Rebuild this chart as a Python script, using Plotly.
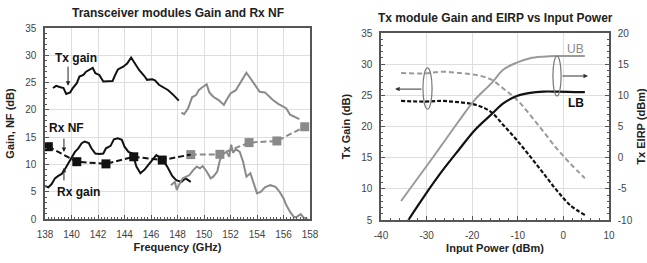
import plotly.graph_objects as go

# ---------------- Left chart data ----------------
tx_lb_f = [138.6, 138.85, 139.1, 139.4, 139.6, 139.9, 140.1, 140.4, 140.6, 140.9, 141.1, 141.4, 141.6, 141.8,
           142.1, 142.4, 142.8, 143.1, 143.3, 143.5, 143.9, 144.2, 144.5, 144.8, 145.1, 145.5, 145.7, 146.1,
           146.3, 146.6, 146.9, 147.3, 147.7, 148.1]
tx_lb_g = [24.0, 24.4, 24.2, 24.0, 22.9, 23.2, 24.0, 24.9, 26.1, 26.4, 27.0, 27.5, 27.7, 26.7,
           26.4, 25.2, 25.2, 25.3, 26.4, 27.4, 27.9, 28.5, 29.6, 28.5, 27.3, 26.2, 25.5, 25.6,
           25.4, 24.6, 24.2, 23.6, 22.7, 21.7]

tx_ub_f = [148.3, 148.5, 148.8, 149.1, 149.4, 149.6, 149.9, 150.2, 150.4, 150.7, 151.1, 151.5, 151.7, 152.0,
           152.4, 152.7, 153.0, 153.2, 153.5, 153.9, 154.2, 154.6, 154.9, 155.2, 155.6, 156.0, 156.2, 156.5,
           156.9, 157.2]
tx_ub_g = [19.5, 19.2, 20.3, 22.3, 22.7, 23.6, 24.2, 24.7, 23.2, 22.4, 21.8, 20.9, 21.8, 23.0,
           23.6, 24.9, 26.0, 26.8, 25.8, 24.4, 23.3, 23.2, 22.5, 21.8, 21.1, 20.5, 20.3, 19.1,
           18.7, 18.3]

rx_lb_f = [138.0, 138.25, 138.5, 138.75, 139.0, 139.26, 139.5, 139.76, 140.0, 140.26, 140.5, 140.77, 141.0,
           141.3, 141.5, 141.8, 142.1, 142.4, 142.6, 142.95, 143.2, 143.5, 143.8, 144.0, 144.3, 144.6, 144.9,
           145.2, 145.5, 145.8, 146.05, 146.4, 146.6, 146.85, 147.2, 147.4, 147.6, 147.9, 148.3, 148.6, 148.8,
           149.0]
rx_lb_g = [6.05, 5.8, 6.4, 7.45, 7.9, 8.25, 9.1, 10.2, 11.1, 12.3, 12.9, 13.9, 14.2,
           13.9, 12.95, 12.0, 11.9, 12.0, 12.95, 13.4, 14.6, 14.8, 14.5, 13.25, 12.3, 12.0, 9.6,
           8.4, 9.0, 9.9, 10.8, 11.7, 11.4, 10.9, 9.7, 8.7, 7.9, 7.1, 6.8, 7.45, 7.1,
           6.8]

rx_ub_f = [147.5, 147.8, 147.95, 148.1, 148.4, 148.6, 148.9, 149.2, 149.45, 149.7, 149.9, 150.2, 150.5,
           150.7, 151.0, 151.2, 151.5, 151.7, 151.9, 152.05, 152.2, 152.4, 152.7, 152.95, 153.2, 153.5,
           153.7, 154.0, 154.3, 154.6, 155.0, 155.4, 155.7, 156.0, 156.2, 156.5, 156.8, 157.0, 157.3,
           157.5, 157.8]
rx_ub_g = [6.2, 6.8, 5.3, 6.2, 7.45, 7.75, 8.05, 9.0, 9.6, 9.3, 9.7, 8.7, 7.45,
           7.75, 8.7, 10.8, 12.0, 12.3, 11.4, 13.6, 12.15, 12.8, 12.3, 10.5, 7.75, 8.4,
           6.8, 4.7, 5.0, 5.8, 6.2, 5.9, 5.0, 3.8, 2.6, 1.3, 0.3, 0.4, 0.9,
           0.3, 0.0]

nf_lb_f = [138.25, 140.4, 142.6, 144.7, 146.85]
nf_lb = [13.25, 10.5, 10.1, 11.4, 10.8]
nf_ub_f = [149.0, 151.2, 153.4, 155.5, 157.6]
nf_ub = [11.8, 11.85, 14.0, 14.3, 16.9]

freq_ticks = [138, 140, 142, 144, 146, 148, 150, 152, 154, 156, 158]
left_y_ticks = [0, 5, 10, 15, 20, 25, 30, 35]

# ---------------- Right chart data ----------------
pin_ub_eirp = [-35.6, -30.35, -26.7, -23.0, -19.4, -15.7, -13.2, -10.2, -7.3, -4.4, -1.5, 4.7]
eirp_ub = [-6.95, -1.7, 2.0, 5.8, 9.3, 12.0, 14.1, 15.25, 15.95, 16.2, 16.3, 16.3]
pin_lb_eirp = [-34.0, -30.35, -26.7, -23.0, -19.4, -15.7, -13.2, -10.2, -7.3, -4.4, -1.5, 4.7]
eirp_lb = [-10.0, -6.0, -2.25, 1.2, 4.45, 7.0, 8.7, 9.9, 10.4, 10.6, 10.6, 10.5]

pin_gain = [-35.6, -30.35, -26.7, -23.0, -19.4, -16.0, -13.2, -10.2, -7.3, -4.4, -1.5, 1.45, 4.7]
gain_ub = [28.6, 28.5, 28.8, 28.6, 28.3, 27.6, 26.1, 24.3, 21.85, 19.2, 16.5, 14.1, 11.7]
gain_lb = [24.1, 24.0, 24.1, 23.9, 23.5, 22.4, 20.25, 17.8, 15.2, 12.5, 9.8, 7.4, 5.8]

pin_ticks = [-40, -30, -20, -10, 0, 10]
gain_ticks = [5, 10, 15, 20, 25, 30, 35]
eirp_ticks = [-10, -5, 0, 5, 10, 15, 20]

W, H = 647, 263
BLACK = "#111111"
GRAY = "#8a8a8a"
FONT = "Liberation Sans Narrow, Arial Narrow, Liberation Sans, Arial, sans-serif"

fig = go.Figure()

# Left chart traces
fig.add_trace(go.Scatter(x=tx_lb_f, y=tx_lb_g, mode="lines", line=dict(color=BLACK, width=2), xaxis="x", yaxis="y"))
fig.add_trace(go.Scatter(x=tx_ub_f, y=tx_ub_g, mode="lines", line=dict(color=GRAY, width=2), xaxis="x", yaxis="y"))
fig.add_trace(go.Scatter(x=rx_lb_f, y=rx_lb_g, mode="lines", line=dict(color=BLACK, width=2), xaxis="x", yaxis="y"))
fig.add_trace(go.Scatter(x=rx_ub_f, y=rx_ub_g, mode="lines", line=dict(color=GRAY, width=2), xaxis="x", yaxis="y"))
fig.add_trace(go.Scatter(x=nf_ub_f, y=nf_ub, mode="lines+markers", line=dict(color=GRAY, width=2, dash="6px,3px"),
                         marker=dict(symbol="square", size=9, color=GRAY), xaxis="x", yaxis="y"))
fig.add_trace(go.Scatter(x=nf_lb_f + nf_ub_f[:1], y=nf_lb + nf_ub[:1], mode="lines",
                         line=dict(color=BLACK, width=2, dash="6px,3px"), xaxis="x", yaxis="y"))
fig.add_trace(go.Scatter(x=nf_lb_f, y=nf_lb, mode="markers",
                         marker=dict(symbol="square", size=9, color=BLACK), xaxis="x", yaxis="y"))

# Right chart traces
fig.add_trace(go.Scatter(x=pin_gain, y=gain_ub, mode="lines", line=dict(color="#9a9a9a", width=2, dash="5px,3px"),
                         line_shape="spline", xaxis="x2", yaxis="y2"))
fig.add_trace(go.Scatter(x=pin_gain, y=gain_lb, mode="lines", line=dict(color=BLACK, width=2.2, dash="4px,2px"),
                         line_shape="spline", xaxis="x2", yaxis="y2"))
fig.add_trace(go.Scatter(x=pin_ub_eirp, y=eirp_ub, mode="lines", line=dict(color="#9a9a9a", width=2),
                         line_shape="spline", xaxis="x2", yaxis="y3"))
fig.add_trace(go.Scatter(x=pin_lb_eirp, y=eirp_lb, mode="lines", line=dict(color=BLACK, width=2.2),
                         line_shape="spline", xaxis="x2", yaxis="y3"))

tickfont = dict(family=FONT, size=10, color="#444")
titlefont = dict(family=FONT, size=11, color="#222", weight="bold")
axis_common = dict(showline=True, linecolor="#555", linewidth=1.5, ticks="inside", ticklen=4,
                   tickcolor="#555", gridcolor="#dedede", gridwidth=1, zeroline=False,
                   tickfont=tickfont, ticklabelstandoff=5, automargin=False)
minor = dict(ticks="inside", ticklen=2.5, tickcolor="#555", showgrid=False)

def lbl(v):
    return [str(t) for t in v]

fig.update_layout(
    width=W, height=H, margin=dict(l=0, r=0, t=0, b=0, autoexpand=False),
    paper_bgcolor="white", plot_bgcolor="white", showlegend=False,
    font=dict(family=FONT),
    xaxis=dict(domain=[45 / W, 310 / W], range=[138, 158], tickvals=freq_ticks, ticktext=lbl(freq_ticks),
               mirror=True, minor=dict(dtick=0.25, **minor),
               title=dict(text="Frequency (GHz)", font=titlefont, standoff=5), anchor="y", **axis_common),
    yaxis=dict(domain=[1 - 219 / H, 1 - 28 / H], range=[0, 35], tickvals=left_y_ticks, ticktext=lbl(left_y_ticks),
               mirror=True, minor=dict(dtick=1, **minor),
               title=dict(text="Gain, NF (dB)", font=titlefont, standoff=8), anchor="x", **axis_common),
    xaxis2=dict(domain=[381 / W, 609 / W], range=[-40, 10], tickvals=pin_ticks, ticktext=lbl(pin_ticks),
                mirror=True, minor=dict(dtick=2, **minor),
                title=dict(text="Input Power (dBm)", font=titlefont, standoff=5), anchor="y2", **axis_common),
    yaxis2=dict(domain=[1 - 220 / H, 1 - 33 / H], range=[5, 35], tickvals=gain_ticks, ticktext=lbl(gain_ticks),
                minor=dict(dtick=1, **minor),
                title=dict(text="Tx Gain (dB)", font=titlefont, standoff=8), anchor="x2", **axis_common),
    yaxis3=dict(range=[-10, 20], tickvals=eirp_ticks, ticktext=lbl(eirp_ticks), overlaying="y2", side="right",
                anchor="x2", showgrid=False, minor=dict(dtick=1, **minor),
                title=dict(text="Tx EIRP (dBm)", font=titlefont, standoff=6),
                **{k: v for k, v in axis_common.items() if k != "gridcolor"}),
)

# Titles
fig.add_annotation(text="<b>Transceiver modules Gain and Rx NF</b>", xref="paper", yref="paper",
                   x=(45 + 310) / 2 / W, y=1 - 13 / H, xanchor="center", yanchor="middle", showarrow=False,
                   font=dict(family=FONT, size=12, color="#222"))
fig.add_annotation(text="<b>Tx module Gain and EIRP vs Input Power</b>", xref="paper", yref="paper",
                   x=(381 + 609) / 2 / W, y=1 - 18 / H, xanchor="center", yanchor="middle", showarrow=False,
                   font=dict(family=FONT, size=12, color="#222"))

labfont = dict(family=FONT, size=12, color="#111", weight="bold")
# Left annotations
fig.add_annotation(text="Tx gain", x=140.34, y=29.5, xref="x", yref="y", showarrow=False, font=labfont)
fig.add_annotation(text="", x=139.74, y=24.4, ax=139.74, ay=28.2, xref="x", yref="y", axref="x", ayref="y",
                   showarrow=True, arrowhead=2, arrowsize=0.9, arrowwidth=1, arrowcolor="#222")
fig.add_annotation(text="Rx NF", x=139.6, y=16.6, xref="x", yref="y", showarrow=False, font=labfont)
fig.add_annotation(text="", x=139.43, y=12.3, ax=139.43, ay=15.0, xref="x", yref="y", axref="x", ayref="y",
                   showarrow=True, arrowhead=2, arrowsize=0.9, arrowwidth=1, arrowcolor="#222")
fig.add_annotation(text="Rx gain", x=140.5, y=5.0, xref="x", yref="y", showarrow=False, font=labfont)
fig.add_annotation(text="", x=139.43, y=9.4, ax=139.43, ay=6.8, xref="x", yref="y", axref="x", ayref="y",
                   showarrow=True, arrowhead=2, arrowsize=0.9, arrowwidth=1, arrowcolor="#222")

# Right annotations
fig.add_shape(type="circle", xref="x2", yref="y2", x0=-30.8, x1=-28.8, y0=22.8, y1=29.4,
              line=dict(color="#777", width=1.2))
fig.add_shape(type="circle", xref="x2", yref="y2", x0=-2.3, x1=-0.5, y0=24.9, y1=31.3,
              line=dict(color="#777", width=1.2))
fig.add_annotation(text="", x=-36.9, y=26.0, ax=-30.8, ay=26.0, xref="x2", yref="y2", axref="x2", ayref="y2",
                   showarrow=True, arrowhead=2, arrowsize=0.9, arrowwidth=1, arrowcolor="#333")
fig.add_annotation(text="", x=5.4, y=28.1, ax=-0.5, ay=28.1, xref="x2", yref="y2", axref="x2", ayref="y2",
                   showarrow=True, arrowhead=2, arrowsize=0.9, arrowwidth=1, arrowcolor="#333")
fig.add_annotation(text="UB", x=2.75, y=32.5, xref="x2", yref="y2", showarrow=False,
                   font=dict(family=FONT, size=12, color="#8a8a8a"))
fig.add_annotation(text="LB", x=2.75, y=23.8, xref="x2", yref="y2", showarrow=False,
                   font=dict(family=FONT, size=12, color="#111", weight="bold"))

fig.write_html("out.html", config={"displayModeBar": False},
               post_script="document.body.style.margin='0';document.body.style.padding='0';")
